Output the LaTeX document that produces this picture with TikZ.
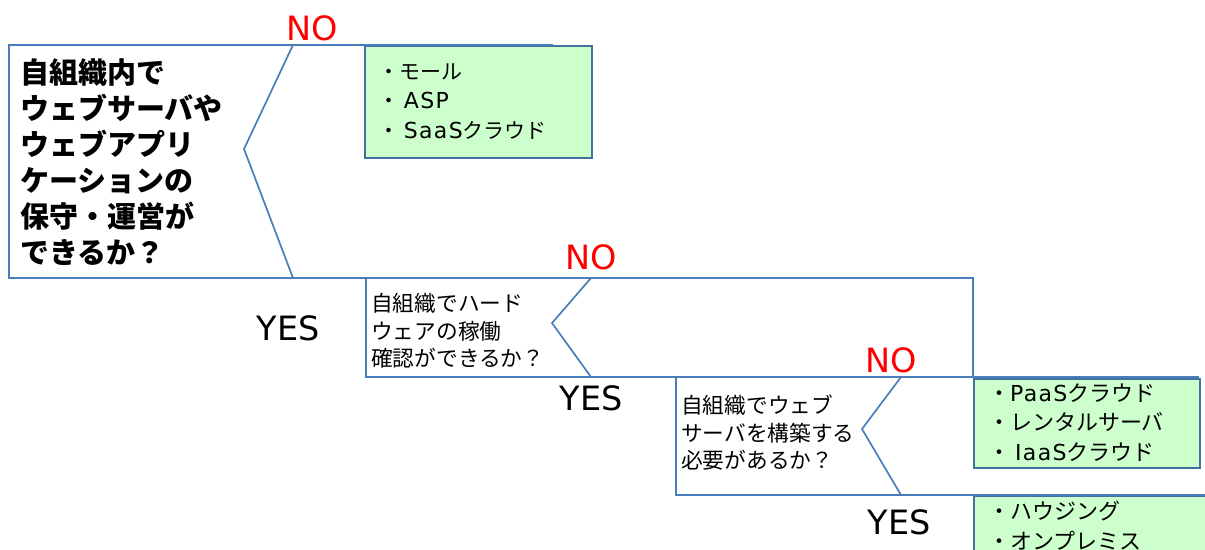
\documentclass[tikz,border=0pt]{standalone}
\usepackage{fontspec}
\setmainfont{Noto Sans CJK JP}
\newfontfamily\latf{DejaVu Sans}[LetterSpace=6]
\newfontfamily\lblf{DejaVu Sans}
\newcommand{\lt}[1]{{\latf #1}}
\definecolor{flowblue}{HTML}{4A7EBB}
\definecolor{boxblue}{HTML}{41719C}
\definecolor{boxgreen}{HTML}{CCFFCC}
\begin{document}
\begin{tikzpicture}[x=1pt,y=-1pt,
  flow/.style={draw=flowblue,line width=1.7pt},
  answer/.style={draw=boxblue,fill=boxgreen,line width=1.7pt,anchor=north west,inner sep=0pt},
  anstext/.style={anchor=west,align=left,inner sep=0pt},
  qtext/.style={anchor=west,align=left,inner sep=0pt,font=\fontsize{21.7}{27.5}\selectfont},
  nolabel/.style={text=red,inner sep=0pt,font=\lblf\fontsize{33.5}{33.5}\selectfont},
  yeslabel/.style={text=black,inner sep=0pt,font=\lblf\fontsize{33.5}{33.5}\selectfont}]
\clip (0,0) rectangle (1205,549);
\fill[white] (0,0) rectangle (1205,549);
% answer boxes
\node[answer,minimum width=227pt,minimum height=112pt] (a1) at (364,45) {};
\node[answer,minimum width=226pt,minimum height=89pt] (a2) at (973,378) {};
\node[answer,minimum width=260pt,minimum height=80pt] (a3) at (973,495) {};
\node[anstext,font=\fontsize{21}{29.5}\selectfont] (t1) at (378,101.5) {・モール\\・ {\fontsize{22}{29.5}\selectfont\lt{ASP}}\\・ {\fontsize{22}{29.5}\selectfont\lt{SaaS}}クラウド};
\node[anstext,font=\fontsize{22}{29.5}\selectfont] (t2) at (988,422.5) {・\lt{PaaS}クラウド\\・レンタルサーバ\\・ \lt{IaaS}クラウド};
\node[anstext,font=\fontsize{22}{30}\selectfont] (t3) at (988,526) {・ハウジング\\・オンプレミス};
% question 1 shape
\coordinate (q1tl) at (9,45);
\coordinate (q1bl) at (9,278);
\coordinate (q1nt) at (293,45);
\coordinate (q1tip) at (244,149);
\coordinate (q1nb) at (293,278);
\coordinate (q1end) at (553,45);
\coordinate (q1br) at (973,278);
\draw[flow] (q1end) -- (q1tl) -- (q1bl) -- (q1br) -- (a2.north west);
\draw[flow] (q1nt) -- (q1tip) -- (q1nb);
% question 2 shape
\coordinate (q2tl) at (366,278);
\coordinate (q2bl) at (366,377);
\coordinate (q2nt) at (591,278);
\coordinate (q2tip) at (552,323);
\coordinate (q2nb) at (591,377);
\coordinate (q2br) at (1199,377);
\draw[flow] (q2tl) -- (q2bl) -- (q2br);
\draw[flow] (q2nt) -- (q2tip) -- (q2nb);
% question 3 shape
\coordinate (q3tl) at (676,377);
\coordinate (q3bl) at (676,495);
\coordinate (q3nt) at (901,377);
\coordinate (q3tip) at (862,429);
\coordinate (q3nb) at (901,495);
\coordinate (q3br) at (1205,495);
\draw[flow] (q3tl) -- (q3bl) -- (q3br);
\draw[flow] (q3nt) -- (q3tip) -- (q3nb);
% question texts
\node[anchor=west,align=left,inner sep=0pt,font=\fontsize{29}{36}\selectfont\bfseries] (q1) at (20,162) {自組織内で\\ウェブサーバや\\ウェブアプリ\\ケーションの\\保守・運営が\\できるか？};
\node[qtext] (q2) at (371,331) {自組織でハード\\ウェアの稼働\\確認ができるか？};
\node[qtext] (q3) at (681,433) {自組織でウェブ\\サーバを構築する\\必要があるか？};
% labels
\node[nolabel] (no1) at (312,28) {NO};
\node[nolabel] (no2) at (591,257) {NO};
\node[nolabel] (no3) at (891,360) {NO};
\node[yeslabel] (yes1) at (288,328) {YES};
\node[yeslabel] (yes2) at (591,398) {YES};
\node[yeslabel] (yes3) at (899,522) {YES};
\end{tikzpicture}
\end{document}
